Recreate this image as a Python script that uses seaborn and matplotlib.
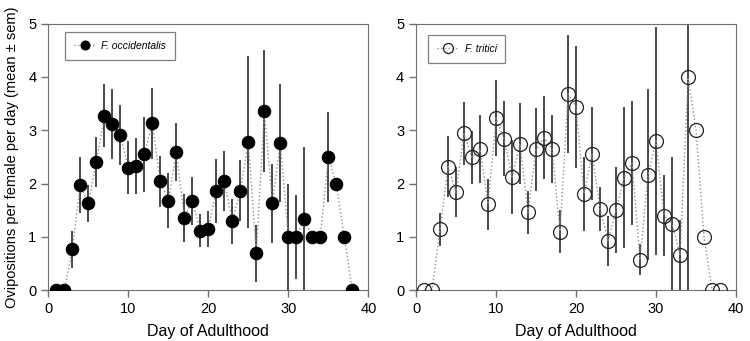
#!/usr/bin/env python

import pandas as pd
import matplotlib.pyplot as plt
import numpy as np
import seaborn as sns

days = list(range(1, 39))

# F. occidentalis
occ_mean = [0, 0, 0.77, 1.97, 1.63, 2.40, 3.27, 3.12, 2.91, 2.30,
            2.33, 2.55, 3.13, 2.04, 1.68, 2.59, 1.36, 1.68, 1.12, 1.15,
            1.87, 2.05, 1.29, 1.87, 2.78, 0.69, 3.36, 1.63, 2.76, 1.00,
            1.00, 1.34, 1.00, 1.00, 2.50, 2.00, 1.00, 0]
occ_sem = [0, 0, 0.35, 0.53, 0.35, 0.47, 0.59, 0.65, 0.57, 0.49,
           0.53, 0.70, 0.66, 0.47, 0.52, 0.55, 0.45, 0.45, 0.31, 0.33,
           0.60, 0.57, 0.43, 0.58, 1.62, 0.54, 1.14, 0.74, 1.10, 1.00,
           0.78, 1.34, 0, 0, 0.84, 0, 0, 0]

# F. tritici
tri_mean = [0, 0, 1.14, 2.32, 1.84, 2.94, 2.49, 2.65, 1.61, 3.23,
            2.84, 2.12, 2.75, 1.46, 2.64, 2.86, 2.65, 1.10, 3.68, 3.44,
            1.81, 2.56, 1.53, 0.93, 1.50, 2.11, 2.38, 0.57, 2.17, 2.80,
            1.40, 1.25, 0.66, 3.99, 3.00, 1.00, 0, 0]
tri_sem = [0, 0, 0.31, 0.57, 0.47, 0.59, 0.49, 0.63, 0.48, 0.72,
           0.70, 0.69, 0.76, 0.40, 0.77, 0.78, 0.63, 0.40, 1.10, 1.14,
           0.69, 0.87, 0.41, 0.47, 0.81, 1.32, 1.16, 0.29, 1.60, 2.13,
           0.76, 1.25, 0.66, 4.00, 0, 0, 0, 0]

plt.rcParams['font.family'] = ['Liberation Sans', 'DejaVu Sans']
plt.rcParams['axes.edgecolor'] = '#707070'


def draw_panel(ax, mean, sem, label, filled, anchor):
    df = pd.DataFrame({'Day': days, 'Mean': mean, 'SEM': sem})

    # Error bars
    ax.errorbar(df['Day'], df['Mean'], yerr=df['SEM'], fmt='none',
                ecolor='#3a3a3a', elinewidth=1.3, capsize=0, zorder=1)

    # Connecting dotted line with markers
    if filled:
        sns.lineplot(data=df, x='Day', y='Mean', ax=ax, color='#909090',
                     linestyle=':', linewidth=1.0, marker='o', markersize=9,
                     markerfacecolor='black', markeredgecolor='black',
                     label=label, zorder=3)
    else:
        sns.lineplot(data=df, x='Day', y='Mean', ax=ax, color='#909090',
                     linestyle=':', linewidth=1.0, marker='o', markersize=10,
                     markerfacecolor='none', markeredgecolor='#202020',
                     markeredgewidth=0.9, label=label, zorder=3)

    ax.set_xlim(0, 40)
    ax.set_ylim(0, 5)
    ax.set_xticks([0, 10, 20, 30, 40])
    ax.set_yticks([0, 1, 2, 3, 4, 5])
    ax.tick_params(direction='out', length=5, width=1, color='#707070',
                   labelsize=10.5, top=False, right=False)
    ax.set_xlabel('Day of Adulthood', fontsize=11.5, labelpad=6)
    ax.set_ylabel('')
    leg = ax.legend(loc='upper left', bbox_to_anchor=anchor,
                    prop={'style': 'italic', 'size': 7.5}, frameon=True,
                    fancybox=False, edgecolor='#606060', borderpad=0.85,
                    handlelength=2.1, handletextpad=0.55, borderaxespad=0,
                    markerscale=0.72)
    leg.get_frame().set_linewidth(0.9)


fig = plt.figure(figsize=(7.5, 3.41), dpi=100)
ax1 = fig.add_axes([0.0644, 0.1487, 0.4267, 0.782])
ax2 = fig.add_axes([0.5547, 0.1487, 0.4267, 0.782])

draw_panel(ax1, occ_mean, occ_sem, 'F. occidentalis', True, (0.052, 0.969))
draw_panel(ax2, tri_mean, tri_sem, 'F. tritici', False, (0.038, 0.957))

ax1.set_ylabel('Ovipositions per female per day (mean \u00b1 sem)',
               fontsize=10.5, labelpad=7)

fig.savefig('out.png', dpi=100)
